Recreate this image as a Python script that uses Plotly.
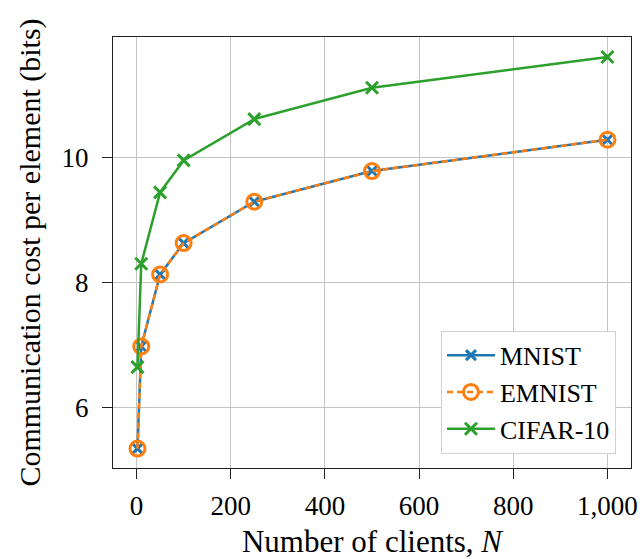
import plotly.graph_objects as go

clients = [2, 10, 50, 100, 250, 500, 1000]
mnist = [5.35, 6.98, 8.13, 8.63, 9.29, 9.78, 10.28]
emnist = [5.35, 6.98, 8.13, 8.63, 9.29, 9.78, 10.28]
cifar10 = [6.65, 8.30, 9.44, 9.95, 10.61, 11.11, 11.60]

x_ticks = [0, 200, 400, 600, 800, 1000]
x_tick_labels = ["0", "200", "400", "600", "800", "1,000"]
y_ticks = [6, 8, 10]

BLUE = "#1f77b4"
ORANGE = "#ff7f0e"
GREEN = "#2ca02c"
FONT = "Liberation Serif"

fig = go.Figure()
fig.add_trace(go.Scatter(
    x=clients, y=mnist, name="MNIST", mode="lines+markers",
    line=dict(color=BLUE, width=2.5),
    marker=dict(symbol="x-thin", size=10, color=BLUE, line=dict(color=BLUE, width=3)),
))
fig.add_trace(go.Scatter(
    x=clients, y=emnist, name="EMNIST", mode="lines+markers",
    line=dict(color=ORANGE, width=2.5, dash="6px,4px"),
    marker=dict(symbol="circle-open", size=15, color=ORANGE, line=dict(color=ORANGE, width=3)),
))
fig.add_trace(go.Scatter(
    x=clients, y=cifar10, name="CIFAR-10", mode="lines+markers",
    line=dict(color=GREEN, width=2.5),
    marker=dict(symbol="x-thin", size=12, color=GREEN, line=dict(color=GREEN, width=3)),
))

axis_common = dict(
    showgrid=True, gridcolor="#c4c4c4", gridwidth=1,
    showline=True, linecolor="#222222", linewidth=1, mirror=True,
    ticks="outside", ticklen=10, tickwidth=1, tickcolor="#222222",
    zeroline=False, automargin=False,
    tickfont=dict(family=FONT, size=27, color="black"),
)

fig.update_xaxes(
    range=[-50, 1050], tickvals=x_ticks, ticktext=x_tick_labels,
    title=dict(text="Number of clients, <i>N</i>", font=dict(family=FONT, size=31, color="black"), standoff=10),
    ticklabelstandoff=4,
    **axis_common,
)
fig.update_yaxes(
    range=[5.04, 11.92], tickvals=y_ticks,
    title=dict(text="Communication cost per element (bits)", font=dict(family=FONT, size=30, color="black"), standoff=12),
    ticklabelstandoff=8,
    **axis_common,
)

fig.update_layout(
    width=643, height=559,
    margin=dict(l=113, r=12, t=37, b=91),
    plot_bgcolor="white", paper_bgcolor="white",
    font=dict(family=FONT, size=27, color="black"),
    legend=dict(
        x=0.971, xanchor="right", y=0.033, yanchor="bottom",
        bgcolor="white", bordercolor="#d0d0d0", borderwidth=1,
        font=dict(family=FONT, size=26, color="black"),
        tracegroupgap=0, itemwidth=48,
        entrywidth=155, entrywidthmode="pixels",
    ),
    showlegend=True,
)

fig.write_html(
    "out.html",
    config={"displayModeBar": False},
    post_script="document.body.style.margin='0';document.body.style.overflow='hidden';",
)
